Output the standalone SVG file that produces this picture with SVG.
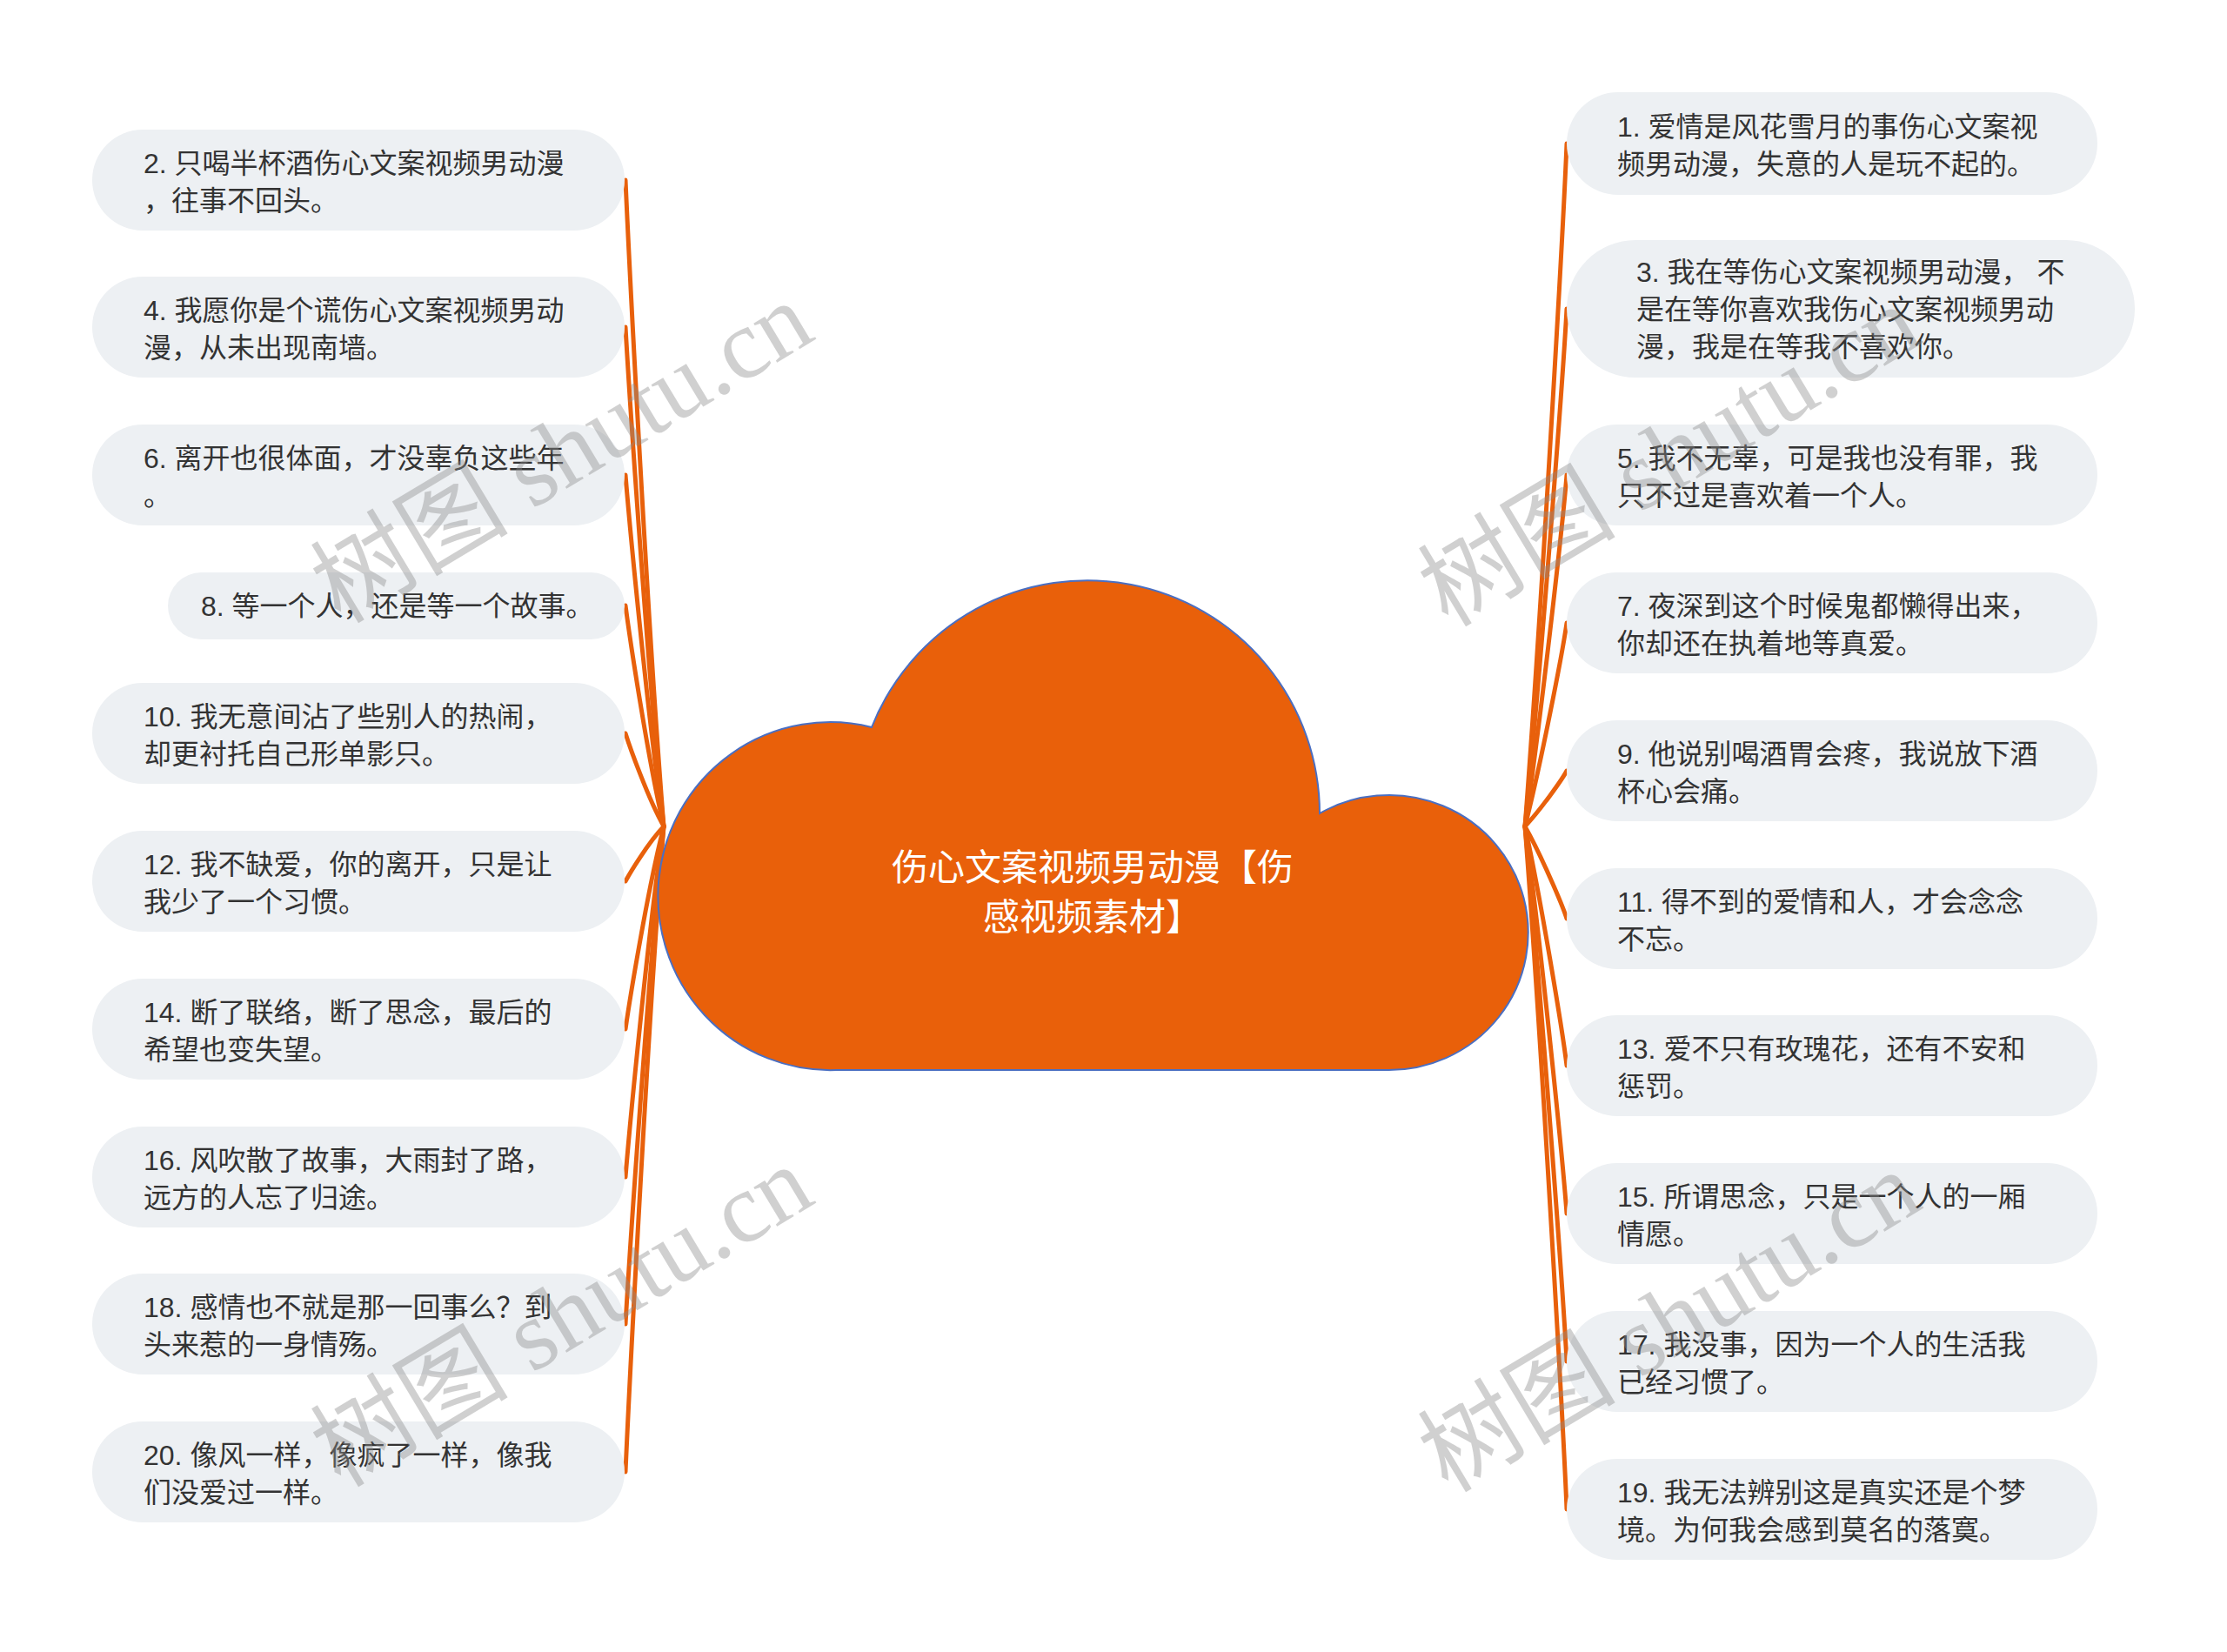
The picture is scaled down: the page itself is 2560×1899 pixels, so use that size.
<svg xmlns="http://www.w3.org/2000/svg" width="2560" height="1899" viewBox="0 0 2560 1899">
<style>
.pill{fill:#EDF0F3}
.t{font-family:"Liberation Sans","Noto Sans CJK SC",sans-serif;font-size:32px;fill:#333333}
.ct{font-family:"Liberation Sans","Noto Sans CJK SC",sans-serif;font-size:42px;fill:#FFFFFF;text-anchor:middle}
.c{fill:none;stroke:#E8600B;stroke-width:5;stroke-linecap:round}
.wm{font-family:"Liberation Serif","Noto Sans CJK SC",serif;font-size:114px;fill:#8c8c8c;opacity:0.4;text-anchor:middle}
</style>
<rect width="2560" height="1899" fill="#FFFFFF"/>
<g id="connectors">
<path class="c" d="M763 950 C745 727.1 724 318.5 719 207"/>
<path class="c" d="M763 950 C745 777.8 724 462.1 719 376"/>
<path class="c" d="M763 950 C745 828.8 724 606.6 719 546"/>
<path class="c" d="M763 950 C745 873.8 724 734.1 719 696"/>
<path class="c" d="M763 950 C745 917.9 724 859 719 843"/>
<path class="c" d="M763 950 C745 968.9 724 1003.6 719 1013"/>
<path class="c" d="M763 950 C745 1019.9 724 1148 719 1183"/>
<path class="c" d="M763 950 C745 1070.9 724 1292.6 719 1353"/>
<path class="c" d="M763 950 C745 1121.6 724 1436.2 719 1522"/>
<path class="c" d="M763 950 C745 1172.6 724 1580.7 719 1692"/>
<path class="c" d="M1753 950 C1771 714.5 1796 282.8 1801 165"/>
<path class="c" d="M1753 950 C1771 771.5 1796 444.3 1801 355"/>
<path class="c" d="M1753 950 C1771 828.8 1796 606.6 1801 546"/>
<path class="c" d="M1753 950 C1771 879.8 1796 751.1 1801 716"/>
<path class="c" d="M1753 950 C1771 930.8 1796 895.6 1801 886"/>
<path class="c" d="M1753 950 C1771 981.8 1796 1040.1 1801 1056"/>
<path class="c" d="M1753 950 C1771 1032.5 1796 1183.8 1801 1225"/>
<path class="c" d="M1753 950 C1771 1083.5 1796 1328.3 1801 1395"/>
<path class="c" d="M1753 950 C1771 1134.5 1796 1472.8 1801 1565"/>
<path class="c" d="M1753 950 C1771 1185.5 1796 1617.3 1801 1735"/>
</g>
<g id="center">
<path d="M962 1230 A198 200 0 1 1 1002 836 A267 268 0 0 1 1517 935 A160 158 0 1 1 1595 1230 Z" fill="#E9600A" stroke="#4A6FC2" stroke-width="2"/>
<text class="ct" x="1256" y="1012">伤心文案视频男动漫【伤</text>
<text class="ct" x="1256" y="1069">感视频素材】</text>
</g>
<g id="n2"><rect class="pill" x="106" y="149" width="612" height="116" rx="58"/><text class="t"><tspan x="165" y="199">2. 只喝半杯酒伤心文案视频男动漫</tspan><tspan x="165" y="242">，往事不回头。</tspan></text></g>
<g id="n4"><rect class="pill" x="106" y="318" width="612" height="116" rx="58"/><text class="t"><tspan x="165" y="368">4. 我愿你是个谎伤心文案视频男动</tspan><tspan x="165" y="411">漫，从未出现南墙。</tspan></text></g>
<g id="n6"><rect class="pill" x="106" y="488" width="612" height="116" rx="58"/><text class="t"><tspan x="165" y="538">6. 离开也很体面，才没辜负这些年</tspan><tspan x="165" y="581">。</tspan></text></g>
<g id="n8"><rect class="pill" x="193" y="658" width="525" height="77" rx="38.5"/><text class="t" x="231" y="708">8. 等一个人，还是等一个故事。</text></g>
<g id="n10"><rect class="pill" x="106" y="785" width="612" height="116" rx="58"/><text class="t"><tspan x="165" y="835">10. 我无意间沾了些别人的热闹，</tspan><tspan x="165" y="878">却更衬托自己形单影只。</tspan></text></g>
<g id="n12"><rect class="pill" x="106" y="955" width="612" height="116" rx="58"/><text class="t"><tspan x="165" y="1005">12. 我不缺爱，你的离开，只是让</tspan><tspan x="165" y="1048">我少了一个习惯。</tspan></text></g>
<g id="n14"><rect class="pill" x="106" y="1125" width="612" height="116" rx="58"/><text class="t"><tspan x="165" y="1175">14. 断了联络，断了思念，最后的</tspan><tspan x="165" y="1218">希望也变失望。</tspan></text></g>
<g id="n16"><rect class="pill" x="106" y="1295" width="612" height="116" rx="58"/><text class="t"><tspan x="165" y="1345">16. 风吹散了故事，大雨封了路，</tspan><tspan x="165" y="1388">远方的人忘了归途。</tspan></text></g>
<g id="n18"><rect class="pill" x="106" y="1464" width="612" height="116" rx="58"/><text class="t"><tspan x="165" y="1514">18. 感情也不就是那一回事么？到</tspan><tspan x="165" y="1557">头来惹的一身情殇。</tspan></text></g>
<g id="n20"><rect class="pill" x="106" y="1634" width="612" height="116" rx="58"/><text class="t"><tspan x="165" y="1684">20. 像风一样，像疯了一样，像我</tspan><tspan x="165" y="1727">们没爱过一样。</tspan></text></g>
<g id="n1"><rect class="pill" x="1801" y="106" width="610" height="118" rx="59"/><text class="t"><tspan x="1859" y="157">1. 爱情是风花雪月的事伤心文案视</tspan><tspan x="1859" y="200">频男动漫，失意的人是玩不起的。</tspan></text></g>
<g id="n3"><rect class="pill" x="1801" y="276" width="653" height="158" rx="79"/><text class="t"><tspan x="1881" y="324">3. 我在等伤心文案视频男动漫， 不</tspan><tspan x="1881" y="367">是在等你喜欢我伤心文案视频男动</tspan><tspan x="1881" y="410">漫，我是在等我不喜欢你。</tspan></text></g>
<g id="n5"><rect class="pill" x="1801" y="488" width="610" height="116" rx="58"/><text class="t"><tspan x="1859" y="538">5. 我不无辜，可是我也没有罪，我</tspan><tspan x="1859" y="581">只不过是喜欢着一个人。</tspan></text></g>
<g id="n7"><rect class="pill" x="1801" y="658" width="610" height="116" rx="58"/><text class="t"><tspan x="1859" y="708">7. 夜深到这个时候鬼都懒得出来，</tspan><tspan x="1859" y="751">你却还在执着地等真爱。</tspan></text></g>
<g id="n9"><rect class="pill" x="1801" y="828" width="610" height="116" rx="58"/><text class="t"><tspan x="1859" y="878">9. 他说别喝酒胃会疼，我说放下酒</tspan><tspan x="1859" y="921">杯心会痛。</tspan></text></g>
<g id="n11"><rect class="pill" x="1801" y="998" width="610" height="116" rx="58"/><text class="t"><tspan x="1859" y="1048">11. 得不到的爱情和人，才会念念</tspan><tspan x="1859" y="1091">不忘。</tspan></text></g>
<g id="n13"><rect class="pill" x="1801" y="1167" width="610" height="116" rx="58"/><text class="t"><tspan x="1859" y="1217">13. 爱不只有玫瑰花，还有不安和</tspan><tspan x="1859" y="1260">惩罚。</tspan></text></g>
<g id="n15"><rect class="pill" x="1801" y="1337" width="610" height="116" rx="58"/><text class="t"><tspan x="1859" y="1387">15. 所谓思念，只是一个人的一厢</tspan><tspan x="1859" y="1430">情愿。</tspan></text></g>
<g id="n17"><rect class="pill" x="1801" y="1507" width="610" height="116" rx="58"/><text class="t"><tspan x="1859" y="1557">17. 我没事，因为一个人的生活我</tspan><tspan x="1859" y="1600">已经习惯了。</tspan></text></g>
<g id="n19"><rect class="pill" x="1801" y="1677" width="610" height="116" rx="58"/><text class="t"><tspan x="1859" y="1727">19. 我无法辨别这是真实还是个梦</tspan><tspan x="1859" y="1770">境。为何我会感到莫名的落寞。</tspan></text></g>
<g id="watermarks">
<text class="wm" transform="translate(645 519) rotate(-31)" x="0" y="40">树图 shutu.cn</text>
<text class="wm" transform="translate(645 1512) rotate(-31)" x="0" y="40">树图 shutu.cn</text>
<text class="wm" transform="translate(1918 523) rotate(-31)" x="0" y="40">树图 shutu.cn</text>
<text class="wm" transform="translate(1918 1518) rotate(-31)" x="0" y="40">树图 shutu.cn</text>
</g>
</svg>
